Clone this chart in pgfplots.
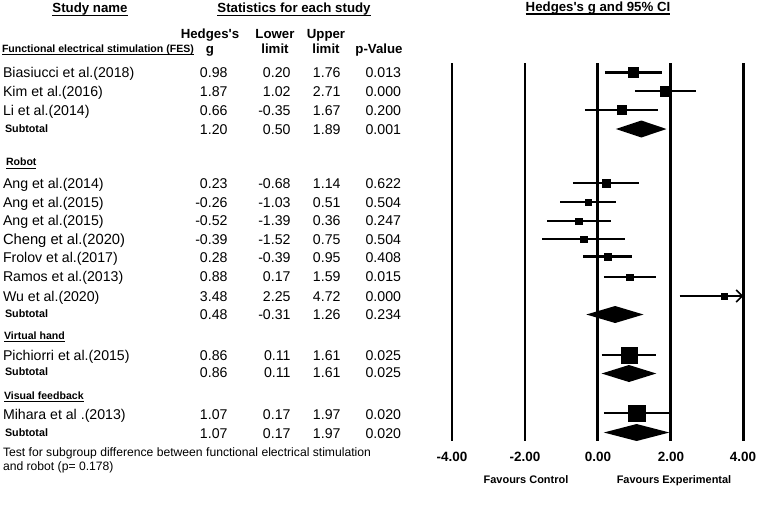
\documentclass[border=0pt]{standalone}
\usepackage{pgfplots}
\pgfplotsset{compat=1.18}
\usetikzlibrary{arrows.meta}
\usepackage{fontspec}
\setmainfont{Liberation Sans}

\newcommand{\fs}[1]{\fontsize{#1}{#1}\selectfont}
% text row: name, g, lo, hi, p, baseline
\newcommand{\trow}[6]{%
  \node[anchor=base west] at (3,#6) {\fs{14.2}#1};
  \node[anchor=base east] at (227.5,#6) {\fs{14.2}#2};
  \node[anchor=base east] at (290.5,#6) {\fs{14.2}#3};
  \node[anchor=base east] at (340.5,#6) {\fs{14.2}#4};
  \node[anchor=base east] at (401,#6) {\fs{14.2}#5};
}
\newcommand{\srow}[5]{%
  \node[anchor=base west] at (5,#5-2) {\fs{10.8}\bfseries Subtotal};
  \node[anchor=base east] at (227.5,#5) {\fs{14.2}#1};
  \node[anchor=base east] at (290.5,#5) {\fs{14.2}#2};
  \node[anchor=base east] at (340.5,#5) {\fs{14.2}#3};
  \node[anchor=base east] at (401,#5) {\fs{14.2}#4};
}
% underlined label: anchor, x, y, text, offset, thickness
\newcommand{\ulab}[6]{%
  \node[anchor=#1] (u) at (#2,#3) {#4};
  \draw[line width=#6bp] ([yshift=-#5bp]u.base west) -- ([yshift=-#5bp]u.base east);
}
% study in the forest plot: g, lo, hi, y, half side
\newcommand{\study}[5]{%
  \addplot[line width=2.7bp] coordinates {(#2,#4) (#3,#4)};
  \addplot[only marks, mark=square*, mark size=#5bp, mark options={fill=black, draw=none}] coordinates {(#1,#4)};
}
\newcommand{\diam}[4]{%
  \addplot[fill=black, draw=none] coordinates {(#2,#4) (#1,#4-8.5) (#3,#4) (#1,#4+8.5)} -- cycle;
}

\begin{document}
\begin{tikzpicture}
\useasboundingbox (0,0) rectangle (757bp,-505bp);
\begin{axis}[
  at={(452bp,0bp)}, anchor=north west,
  scale only axis, width=291.3bp, height=505bp,
  xmin=-4, xmax=4, ymin=0, ymax=505, y dir=reverse,
  hide axis, clip=false]
  % vertical reference lines
  \addplot[line width=2.5bp] coordinates {(-4,63) (-4,441)};
  \addplot[line width=2.5bp] coordinates {(-2,63) (-2,441)};
  \addplot[line width=2.5bp] coordinates {(0,63) (0,441)};
  \addplot[line width=2.5bp] coordinates {(2,63) (2,441)};
  \addplot[line width=2.5bp] coordinates {(4,63) (4,441)};
  % FES
  \study{0.98}{0.20}{1.76}{72.5}{5}
  \study{1.87}{1.02}{2.71}{91}{5.2}
  \study{0.66}{-0.35}{1.67}{110}{4.6}
  \diam{1.20}{0.50}{1.89}{129}
  % Robot
  \study{0.23}{-0.68}{1.14}{183}{4}
  \study{-0.26}{-1.03}{0.51}{202}{3.3}
  \study{-0.52}{-1.39}{0.36}{221}{3.2}
  \study{-0.39}{-1.52}{0.75}{239}{3.3}
  \study{0.28}{-0.39}{0.95}{256.5}{3.3}
  \study{0.88}{0.17}{1.59}{277}{3.3}
  \addplot[line width=2.2bp, -{Straight Barb[length=6bp,width=12bp,line width=1.6bp]}] coordinates {(2.25,296) (4,296)};
  \addplot[only marks, mark=square*, mark size=2.8bp, mark options={fill=black, draw=none}] coordinates {(3.48,296)};
  \diam{0.48}{-0.31}{1.26}{314.5}
  % Virtual hand
  \study{0.86}{0.11}{1.61}{355}{8}
  \diam{0.86}{0.11}{1.61}{373.5}
  % Visual feedback
  \study{1.07}{0.17}{1.97}{413}{8.3}
  \diam{1.07}{0.17}{1.97}{432.5}
\end{axis}

\begin{scope}[x=1bp, y=-1bp, every node/.style={inner sep=0pt, outer sep=0pt}]
  % titles
  \ulab{base}{90}{12}{\fs{13.3}\bfseries Study name}{3.6}{1.5}
  \ulab{base}{294}{12}{\fs{13.3}\bfseries Statistics for each study}{3.6}{1.5}
  \ulab{base}{598}{11}{\fs{13.3}\bfseries Hedges\textquotesingle s g and 95\% CI}{3.2}{1.5}
  % column heads
  \node[anchor=base] at (210,38) {\fs{13.3}\bfseries Hedges\textquotesingle s};
  \node[anchor=base] at (210,53) {\fs{13.3}\bfseries g};
  \node[anchor=base] at (275,38) {\fs{13.3}\bfseries Lower};
  \node[anchor=base] at (275,53) {\fs{13.3}\bfseries limit};
  \node[anchor=base] at (326,38) {\fs{13.3}\bfseries Upper};
  \node[anchor=base] at (326,53) {\fs{13.3}\bfseries limit};
  \node[anchor=base] at (379,53) {\fs{13.3}\bfseries p-Value};
  % groups
  \ulab{base west}{2}{52}{\fs{10.6}\bfseries Functional electrical stimulation (FES)}{2.6}{1.1}
  \trow{Biasiucci et al.(2018)}{0.98}{0.20}{1.76}{0.013}{77.5}
  \trow{Kim et al.(2016)}{1.87}{1.02}{2.71}{0.000}{96}
  \trow{Li et al.(2014)}{0.66}{-0.35}{1.67}{0.200}{115}
  \srow{1.20}{0.50}{1.89}{0.001}{134}

  \ulab{base west}{6}{165.5}{\fs{10.6}\bfseries Robot}{2.6}{1.1}
  \trow{Ang et al.(2014)}{0.23}{-0.68}{1.14}{0.622}{188}
  \trow{Ang et al.(2015)}{-0.26}{-1.03}{0.51}{0.504}{207.5}
  \trow{Ang et al.(2015)}{-0.52}{-1.39}{0.36}{0.247}{225.5}
  \trow{{\fs{14.8}Cheng et al.(2020)}}{-0.39}{-1.52}{0.75}{0.504}{244}
  \trow{Frolov et al.(2017)}{0.28}{-0.39}{0.95}{0.408}{262}
  \trow{Ramos et al.(2013)}{0.88}{0.17}{1.59}{0.015}{281.5}
  \trow{Wu et al.(2020)}{3.48}{2.25}{4.72}{0.000}{301}
  \srow{0.48}{-0.31}{1.26}{0.234}{319}

  \ulab{base west}{4}{339}{\fs{10.6}\bfseries Virtual hand}{2.6}{1.1}
  \trow{Pichiorri et al.(2015)}{0.86}{0.11}{1.61}{0.025}{360}
  \srow{0.86}{0.11}{1.61}{0.025}{377}

  \ulab{base west}{4}{399}{\fs{10.6}\bfseries Visual feedback}{2.6}{1.1}
  \trow{Mihara et al .(2013)}{1.07}{0.17}{1.97}{0.020}{419}
  \srow{1.07}{0.17}{1.97}{0.020}{438}

  % axis tick labels
  \node[anchor=base] at (452,461) {\fs{13.5}\bfseries -4.00};
  \node[anchor=base] at (525,461) {\fs{13.5}\bfseries -2.00};
  \node[anchor=base] at (598,461) {\fs{13.5}\bfseries 0.00};
  \node[anchor=base] at (671,461) {\fs{13.5}\bfseries 2.00};
  \node[anchor=base] at (743,461) {\fs{13.5}\bfseries 4.00};
  \node[anchor=base] at (526,483) {\fs{11}\bfseries Favours Control};
  \node[anchor=base] at (674,483) {\fs{11}\bfseries Favours Experimental};

  % footnote
  \node[anchor=base west] at (3,456) {\fs{12.2}Test for subgroup difference between functional electrical stimulation};
  \node[anchor=base west] at (3,470.5) {\fs{12.2}and robot (p= 0.178)};
\end{scope}
\end{tikzpicture}
\end{document}
